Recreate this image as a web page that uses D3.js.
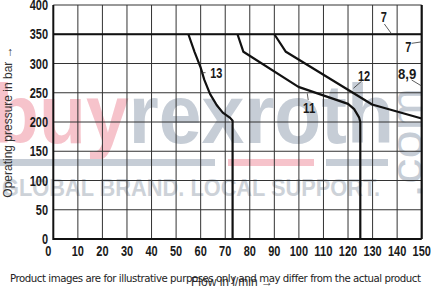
<!DOCTYPE html>
<html>
<head>
<meta charset="utf-8">
<script src="https://cdn.jsdelivr.net/npm/d3@7"></script>
<style>
  body { margin: 0; background: #fff; }
  svg { display: block; }
</style>
</head>
<body>
<div id="chart"></div>
<script>
// ---- data ----
const xTicks = [0, 10, 20, 30, 40, 50, 60, 70, 80, 90, 100, 110, 120, 130, 140, 150];
const yTicks = [0, 50, 100, 150, 200, 250, 300, 350, 400];

// [flow l/min, pressure bar]
const curve13 = [[55, 350], [57.5, 320], [60, 293], [61.5, 272], [63.8, 248], [66.5, 229], [69, 216], [72, 207], [73, 202], [73, 0]];
const curve11 = [[75, 350], [77.4, 320], [99.8, 260], [120, 231], [122.5, 222], [124.5, 208], [125, 200], [125, 0]];
const curve12 = [[90, 350], [94.7, 320], [129.8, 230], [150, 206]];
const curve7 = [[0, 350], [150, 350]];
const curve89 = [[150, 0], [150, 400]];

const labels = [
  { text: "7", x: 134.6, y: 379.5, x1: 134.8, y1: 367.5, x2: 137.5, y2: 352 },
  { text: "7", x: 144.5, y: 328.7, x1: 145.9, y1: 334.5, x2: 150, y2: 337 },
  { text: "12", x: 126.5, y: 278.6, x1: 125.6, y1: 270, x2: 122.2, y2: 257.6 },
  { text: "8,9", x: 144.1, y: 282, x1: 145.9, y1: 271.8, x2: 150, y2: 261.5 },
  { text: "11", x: 104.2, y: 223.4, x1: 103.8, y1: 237.6, x2: 103.4, y2: 249 },
  { text: "13", x: 66.4, y: 283.8, x1: 60.1, y1: 284.3, x2: 62, y2: 284.3 }
];

const width = 431, height = 287;
const tickFont = "'Liberation Sans', Arial, sans-serif";
// condensed look: squeeze each label to ~6px per character
const squeeze = s => s.length * 6.1;

const svg = d3.select("#chart")
  .append("svg")
  .attr("width", width)
  .attr("height", height);

const x = d3.scaleLinear().domain([0, 150]).range([53.3, 421.7]);
const y = d3.scaleLinear().domain([0, 400]).range([239, 5]);

// watermark (behind the chart)
const wm = svg.append("g");
const wmText = wm.append("text")
  .attr("x", -8)
  .attr("y", 143)
  .attr("font-family", "'Liberation Sans', Arial, sans-serif")
  .attr("font-weight", "bold")
  .attr("font-size", 84)
  .attr("textLength", 402)
  .attr("lengthAdjust", "spacingAndGlyphs");
wmText.append("tspan").attr("fill", "#f6c3cb").text("buy");
wmText.append("tspan").attr("fill", "#c6cdd6").text("rexroth");

wm.append("rect").attr("x", 0).attr("y", 159).attr("width", 215).attr("height", 7).attr("fill", "#c6cdd6");
wm.append("rect").attr("x", 228).attr("y", 159).attr("width", 86).attr("height", 7).attr("fill", "#f6c3cb");
wm.append("rect").attr("x", 326).attr("y", 159).attr("width", 62).attr("height", 7).attr("fill", "#c6cdd6");

wm.append("text")
  .attr("x", 2)
  .attr("y", 196)
  .attr("font-family", "'Liberation Sans', Arial, sans-serif")
  .attr("font-weight", "bold")
  .attr("font-size", 24)
  .attr("textLength", 378)
  .attr("lengthAdjust", "spacingAndGlyphs")
  .attr("fill", "#cdd2d8")
  .text("GLOBAL BRAND. LOCAL SUPPORT.");

wm.append("text")
  .attr("transform", "translate(422,198) rotate(-90)")
  .attr("font-family", "'Liberation Sans', Arial, sans-serif")
  .attr("font-size", 44)
  .attr("textLength", 110)
  .attr("lengthAdjust", "spacingAndGlyphs")
  .attr("fill", "#c6cdd6")
  .text(".com");

// grid
svg.append("g")
  .selectAll("line")
  .data(xTicks.slice(1, -1))
  .join("line")
  .attr("x1", d => x(d)).attr("x2", d => x(d))
  .attr("y1", y(0)).attr("y2", y(400))
  .attr("stroke", "#333").attr("stroke-width", 1);

svg.append("g")
  .selectAll("line")
  .data(yTicks.slice(1))
  .join("line")
  .attr("x1", x(0)).attr("x2", x(150))
  .attr("y1", d => y(d)).attr("y2", d => y(d))
  .attr("stroke", "#333").attr("stroke-width", 1);

// axes frame (left, bottom)
svg.append("path")
  .attr("d", `M${x(0)},${y(400)}V${y(0)}H${x(150)}`)
  .attr("fill", "none").attr("stroke", "#111").attr("stroke-width", 2);

// tick labels
svg.append("g")
  .selectAll("text")
  .data(yTicks)
  .join("text")
  .attr("x", 48)
  .attr("y", d => y(d) + 5)
  .attr("text-anchor", "end")
  .attr("font-family", tickFont)
  .attr("font-weight", "bold")
  .attr("font-size", 14)
  .attr("textLength", d => squeeze(String(d)))
  .attr("lengthAdjust", "spacingAndGlyphs")
  .attr("fill", "#1a1a1a")
  .text(d => d);

svg.append("g")
  .selectAll("text")
  .data(xTicks)
  .join("text")
  .attr("x", d => d === 0 ? x(0) - 5 : x(d))
  .attr("y", 255.5)
  .attr("text-anchor", "middle")
  .attr("font-family", tickFont)
  .attr("font-weight", "bold")
  .attr("font-size", 14)
  .attr("textLength", d => squeeze(String(d)))
  .attr("lengthAdjust", "spacingAndGlyphs")
  .attr("fill", "#1a1a1a")
  .text(d => d);

// curves
const line = d3.line().x(d => x(d[0])).y(d => y(d[1]));

svg.append("g")
  .selectAll("path")
  .data([curve7, curve89, curve13, curve11, curve12])
  .join("path")
  .attr("d", line)
  .attr("fill", "none")
  .attr("stroke", "#111")
  .attr("stroke-width", 2.2)
  .attr("stroke-linejoin", "round");

// curve labels
const lab = svg.append("g");
lab.selectAll("line")
  .data(labels)
  .join("line")
  .attr("x1", d => x(d.x1)).attr("y1", d => y(d.y1))
  .attr("x2", d => x(d.x2)).attr("y2", d => y(d.y2))
  .attr("stroke", "#333").attr("stroke-width", 0.8);

lab.selectAll("text")
  .data(labels)
  .join("text")
  .attr("x", d => x(d.x))
  .attr("y", d => y(d.y) + 5)
  .attr("text-anchor", "middle")
  .attr("font-family", tickFont)
  .attr("font-weight", "bold")
  .attr("font-size", 14)
  .attr("textLength", d => squeeze(d.text))
  .attr("lengthAdjust", "spacingAndGlyphs")
  .attr("fill", "#1a1a1a")
  .text(d => d.text);

// axis titles
svg.append("text")
  .attr("transform", "translate(12,122) rotate(-90)")
  .attr("text-anchor", "middle")
  .attr("font-family", "'Liberation Sans', Arial, sans-serif")
  .attr("font-size", 12)
  .attr("fill", "#333")
  .text("Operating pressure in bar \u2192");

svg.append("text")
  .attr("x", 232)
  .attr("y", 285.5)
  .attr("text-anchor", "middle")
  .attr("font-family", "'Liberation Sans', Arial, sans-serif")
  .attr("font-size", 12)
  .attr("fill", "#333")
  .text("Flow in l/min \u2192");

// disclaimer
svg.append("text")
  .attr("x", 10)
  .attr("y", 282)
  .attr("font-family", "'DejaVu Sans', sans-serif")
  .attr("font-size", 10.2)
  .attr("textLength", 411)
  .attr("fill", "#222")
  .text("Product images are for illustrative purposes only and may differ from the actual product");
</script>
</body>
</html>
